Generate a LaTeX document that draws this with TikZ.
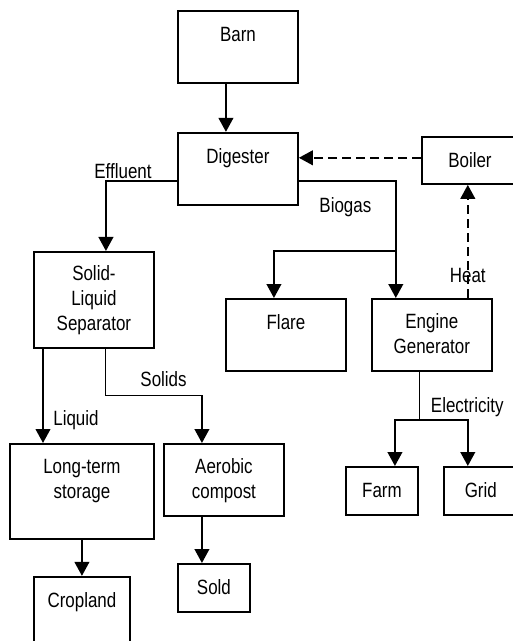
\documentclass[tikz,border=0pt]{standalone}
\usepackage{fontspec}
\setmainfont{Liberation Sans}[FakeStretch=0.82]
\usetikzlibrary{arrows.meta, positioning}

\begin{document}
\begin{tikzpicture}[
    x=0.75pt, y=-0.75pt,
    every node/.style={font=\fontsize{15.5}{18.75}\selectfont},
    box/.style={draw, line width=1.4pt, inner sep=0pt, align=center, text height=23.25pt, anchor=north west},
    proc/.style={box, minimum width=90pt, text depth=30.75pt},
    twoline/.style={box, minimum width=90pt, text height=41.25pt, text depth=12.75pt},
    small/.style={box, minimum width=54pt, text depth=12.75pt},
    lbl/.style={inner sep=1pt},
    link/.style={line width=0.75pt},
    arrow/.style={line width=1.5pt, -{Triangle[width=11pt, length=10.5pt]}},
    dasharrow/.style={arrow, dash pattern=on 6.5pt off 4pt}
]
\useasboundingbox (0,0) rectangle (512,641);

\node[proc] (barn) at (177,10) {Barn};
\node[proc, below=36pt of barn] (digester) {Digester};
\node[box, minimum width=72pt, text depth=12pt] (boiler) at (421,136) {Boiler};
\node[box, minimum width=90pt, text height=59.25pt, text depth=12.75pt] (sep) at (33,251) {Solid-\\Liquid\\Separator};
\node[proc] (flare) at (225,298) {Flare};
\node[twoline, right=18pt of flare] (engine) {Engine\\Generator};
\node[twoline, minimum width=108pt, text depth=30pt] (storage) at (9,443) {Long-term\\storage};
\node[twoline] (aerobic) at (163,443) {Aerobic\\compost};
\node[small] (farm) at (345,466) {Farm};
\node[small, minimum width=55.5pt, right=18pt of farm] (grid) {Grid};
\node[box, minimum width=72pt, text depth=30.75pt, below=27pt of storage] (cropland) {Cropland};
\node[small] (sold) at (177,563) {Sold};

% split points
\coordinate (gassplit) at ([xshift=-27pt, yshift=35.25pt]engine.north);
\coordinate (solidbend) at ([xshift=-16.5pt, yshift=36pt]aerobic.north);
\coordinate (elsplit) at ([xshift=-9pt, yshift=-36pt]engine.south);

\draw[arrow] ([xshift=-9pt]barn.south) -- ([xshift=-9pt]digester.north);
\draw[arrow] ([yshift=-9pt]digester.west) -| ([xshift=9pt]sep.north) node[lbl, pos=0.38, above] {Effluent};
\draw[arrow] ([yshift=-9pt]digester.east) -| ([xshift=-27pt]engine.north) node[lbl, pos=0.24, below=11pt] {Biogas};
\draw[arrow] (gassplit) -| ([xshift=-9pt]flare.north);
\draw[dasharrow] ([xshift=27pt]engine.north) -- ([xshift=27pt]engine.north |- boiler.south) node[lbl, pos=0.2] {Heat};
\draw[dasharrow] ([yshift=8.25pt]digester.east -| boiler.west) -- ([yshift=8.25pt]digester.east);

\draw[arrow] ([xshift=7.5pt]sep.south west) -- ([xshift=7.5pt]sep.south west |- storage.north) node[lbl, pos=0.755, right=6pt] {Liquid};
\draw[link] ([xshift=9pt]sep.south) |- (solidbend) node[lbl, pos=0.8, above=4.5pt] {Solids};
\draw[arrow] (solidbend) -- ([xshift=-16.5pt]aerobic.north);

\draw[link] ([xshift=-9pt]engine.south) -- (elsplit) node[lbl, pos=0.74, right=7pt] {Electricity};
\draw[arrow] (elsplit) -| ([xshift=9.75pt]farm.north);
\draw[arrow] (elsplit) -| ([xshift=-9.75pt]grid.north);

\draw[arrow] (storage.south) -- (cropland.north);
\draw[arrow] ([xshift=-16.5pt]aerobic.south) -- ([xshift=-9pt]sold.north);

\end{tikzpicture}
\end{document}
